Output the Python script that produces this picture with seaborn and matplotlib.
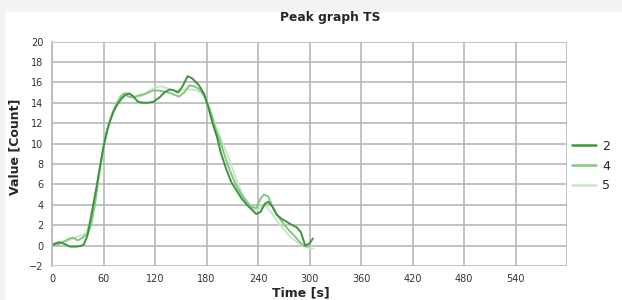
import numpy as np
import pandas as pd
import seaborn as sns
import matplotlib.pyplot as plt
from matplotlib.patches import Rectangle

# series (time in s, value in count)
t2 = [0, 5, 9, 15, 21, 28, 33, 37, 41, 44, 48, 52, 56, 60, 64, 68, 72, 76, 81, 86, 90, 95,
      100, 106, 112, 118, 125, 131, 137, 142, 147, 152, 158, 163, 168, 172, 177, 182, 187,
      192, 197, 203, 209, 215, 221, 227, 233, 238, 243, 248, 252, 257, 262, 268, 274, 280,
      285, 290, 295, 300, 304]
v2 = [0.05, 0.25, 0.33, 0.15, -0.1, -0.1, -0.05, 0.1, 0.9, 2.2, 4.0, 5.8, 7.8, 9.7, 11.2,
      12.3, 13.2, 13.8, 14.4, 14.8, 14.9, 14.6, 14.1, 14.0, 14.0, 14.1, 14.5, 15.0, 15.3,
      15.2, 15.0, 15.6, 16.6, 16.4, 16.0, 15.6, 14.9, 13.6, 12.0, 10.7, 9.0, 7.5, 6.2, 5.4,
      4.6, 4.0, 3.5, 3.1, 3.3, 4.1, 4.3, 3.8, 3.0, 2.6, 2.3, 2.0, 1.8, 1.3, 0.0, 0.2, 0.7]

t4 = [0, 6, 12, 18, 24, 30, 36, 42, 46, 50, 55, 60, 65, 70, 75, 80, 84, 89, 95, 100, 106,
      112, 118, 124, 130, 136, 142, 148, 154, 160, 166, 172, 178, 184, 190, 196, 202, 208,
      214, 220, 226, 232, 238, 243, 247, 252, 258, 264, 270, 276, 282, 288, 293, 298]
v4 = [0.0, 0.1, 0.3, 0.6, 0.8, 0.5, 0.8, 1.2, 2.2, 4.0, 7.0, 9.6, 11.6, 12.9, 13.9, 14.6,
      14.9, 14.6, 14.5, 14.7, 14.8, 15.0, 15.2, 15.2, 15.1, 15.0, 14.8, 14.6, 15.0, 15.7,
      15.6, 15.3, 14.6, 13.3, 11.6, 10.2, 8.6, 7.2, 6.0, 5.1, 4.4, 3.8, 3.7, 4.6, 5.0, 4.8,
      3.6, 2.8, 2.1, 1.5, 1.0, 0.4, 0.0, -0.1]

t5 = [0, 6, 13, 19, 25, 30, 35, 40, 45, 50, 55, 60, 65, 70, 75, 80, 85, 90, 96, 102, 108,
      114, 120, 126, 132, 138, 144, 150, 156, 162, 168, 174, 180, 186, 192, 198, 204, 210,
      216, 222, 228, 234, 240, 245, 250, 256, 262, 268, 274, 280, 286, 292, 298, 304]
v5 = [0.0, 0.2, 0.4, 0.5, 0.7, 0.9, 1.0, 1.3, 2.4, 4.5, 7.2, 9.6, 11.5, 12.8, 13.8, 14.6,
      15.0, 14.9, 14.6, 14.6, 14.8, 15.2, 15.5, 15.6, 15.5, 15.3, 15.2, 15.2, 15.3, 15.3,
      15.2, 15.0, 14.2, 12.8, 11.4, 10.2, 9.0, 7.6, 6.2, 5.0, 4.2, 3.6, 3.5, 3.9, 3.8, 3.2,
      2.4, 1.8, 1.2, 0.7, 0.3, 0.0, -0.2, -0.3]

series_names = ['2', '4', '5']
colors = {'2': '#3a963a', '4': '#84c684', '5': '#c9e7c5'}

x_ticks = [0, 60, 120, 180, 240, 300, 360, 420, 480, 540]
y_ticks = list(range(-2, 21, 2))

df = pd.concat([
    pd.DataFrame({'time': t5, 'value': v5, 'series': '5'}),
    pd.DataFrame({'time': t4, 'value': v4, 'series': '4'}),
    pd.DataFrame({'time': t2, 'value': v2, 'series': '2'}),
])

sns.set_style("white")
plt.rcParams['font.family'] = ['DejaVu Sans']

fig = plt.figure(figsize=(6.22, 3.0), dpi=100, facecolor='#f3f3f3')
fig.patches.append(Rectangle((5 / 622, 0), 1, 1 - 12 / 300, transform=fig.transFigure,
                             facecolor='white', edgecolor='none', zorder=-10))
ax = fig.add_axes([52 / 622, 1 - 266 / 300, 515 / 622, (266 - 41.5) / 300])
ax.set_facecolor('white')

sns.lineplot(data=df, x='time', y='value', hue='series', palette=colors,
             hue_order=['5', '4', '2'], sort=False, estimator=None,
             linewidth=1.4, ax=ax, legend=False)

ax.set_xlim(0, 600)
ax.set_ylim(-2, 20)
ax.set_xticks(x_ticks + [600])
ax.set_xticklabels([str(x) for x in x_ticks] + [''])
ax.set_yticks(y_ticks)
ax.grid(True, color='#b8b8b8', linewidth=1.2)
ax.set_axisbelow(True)
for s in ['top', 'right', 'bottom']:
    ax.spines[s].set_visible(False)
ax.spines['left'].set_color('#b8b8b8')
ax.spines['left'].set_linewidth(1.2)
ax.tick_params(axis='y', length=4, width=1.5, color='#333333', labelsize=7,
               labelcolor='#333333', pad=2)
ax.tick_params(axis='x', length=0, labelsize=7, labelcolor='#333333', pad=6)

ax.set_xlabel('Time [s]', fontsize=9, fontweight='bold')
ax.set_ylabel('Value [Count]', fontsize=9, fontweight='bold')
ax.xaxis.set_label_coords((301 - 52) / 515, -(293 - 266) / 224.5, transform=ax.transAxes)
ax.yaxis.set_label_coords(-(52 - 15) / 515, (266 - 147) / 224.5, transform=ax.transAxes)
ax.xaxis.label.set_va('center')
ax.yaxis.label.set_va('center')
fig.text(330 / 622, 1 - 17 / 300, 'Peak graph TS', ha='center', va='center',
         fontsize=8.8, fontweight='bold')

handles = [plt.Line2D([], [], color=colors[n], linewidth=1.8) for n in series_names]
fig.legend(handles, series_names, loc='center left', bbox_to_anchor=(572 / 622, 1 - 166 / 300),
           frameon=False, fontsize=9, handlelength=1.9, labelspacing=0.55,
           handletextpad=0.5, borderpad=0, borderaxespad=0)

fig.savefig('out.png', dpi=100, facecolor=fig.get_facecolor())
